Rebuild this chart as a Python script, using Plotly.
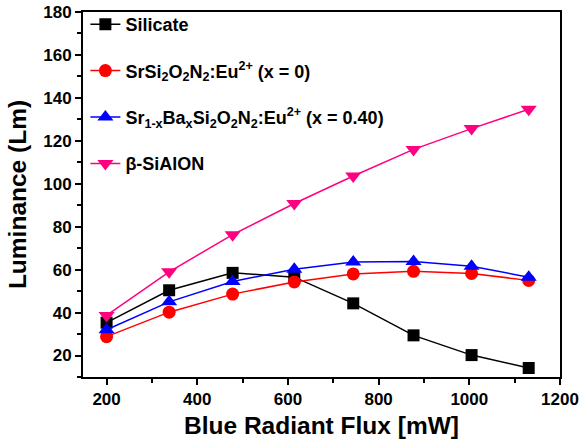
import plotly.graph_objects as go

flux = [200, 338, 478, 614, 744, 877, 1005, 1131]
silicate = [35.3, 50.4, 58.5, 56.5, 44.3, 29.4, 20.2, 14.2]
sr_x0 = [28.8, 40.2, 48.6, 54.3, 58.0, 59.2, 58.2, 55.0]
sr_x040 = [32.0, 45.0, 54.5, 60.2, 63.6, 63.8, 61.6, 56.5]
sialon = [38.7, 59.0, 76.3, 90.8, 103.6, 116.0, 125.7, 134.7]

x_major = [200, 400, 600, 800, 1000, 1200]
x_minor = [300, 500, 700, 900, 1100]
y_major = [20, 40, 60, 80, 100, 120, 140, 160, 180]
y_minor = [10, 30, 50, 70, 90, 110, 130, 150, 170]

names = [
    "Silicate",
    "SrSi<sub>2</sub>O<sub>2</sub>N<sub>2</sub>:Eu<sup>2+</sup> (x = 0)",
    "Sr<sub>1-x</sub>Ba<sub>x</sub>Si<sub>2</sub>O<sub>2</sub>N<sub>2</sub>:Eu<sup>2+</sup> (x = 0.40)",
    "β-SiAlON",
]
series = [silicate, sr_x0, sr_x040, sialon]
colors = ["#000000", "#ff0000", "#0000ff", "#ff0080"]
symbols = ["square", "circle", "triangle-up", "triangle-down"]
sizes = [12, 13, 14, 14]

fig = go.Figure()
for i, (nm, ys, c, s, sz) in enumerate(zip(names, series, colors, symbols, sizes)):
    fig.add_trace(go.Scatter(
        x=flux, y=ys, name=nm, mode="lines+markers",
        line=dict(color=c, width=1.5),
        marker=dict(symbol=s, size=sz, color=c),
        legendgroup=f"g{i}",
    ))

fig.update_layout(
    template="none",
    width=582, height=444,
    margin=dict(l=83, r=22, t=12, b=67, autoexpand=False),
    paper_bgcolor="white", plot_bgcolor="white",
    font=dict(family="Liberation Sans, Arial", size=15, color="black"),
    showlegend=True,
    legend=dict(x=0.005, y=0.9865, xref="paper", yref="container",
                xanchor="left", yanchor="top",
                bgcolor="rgba(0,0,0,0)", font=dict(size=18, weight="bold"),
                traceorder="grouped", tracegroupgap=20),
)
axis_common = dict(
    ticks="outside", ticklen=6, tickwidth=2, tickcolor="black",
    showline=True, linewidth=2, linecolor="black", mirror=True,
    showgrid=False, zeroline=False, automargin=False,
    tickfont=dict(size=17, weight="bold"),
)
fig.update_xaxes(
    range=[148, 1200], tickmode="array", tickvals=x_major,
    minor=dict(tickmode="array", tickvals=x_minor, ticks="outside", ticklen=4, tickwidth=1.5, tickcolor="black"),
    title=dict(text="Blue Radiant Flux [mW]", font=dict(size=24.5, weight="bold"), standoff=8),
    **axis_common,
)
fig.update_yaxes(
    range=[10, 180], tickmode="array", tickvals=y_major,
    minor=dict(tickmode="array", tickvals=y_minor, ticks="outside", ticklen=4, tickwidth=1.5, tickcolor="black"),
    title=dict(text="Luminance (Lm)", font=dict(size=24.5, weight="bold"), standoff=10),
    **axis_common,
)
fig.write_html("out.html")
